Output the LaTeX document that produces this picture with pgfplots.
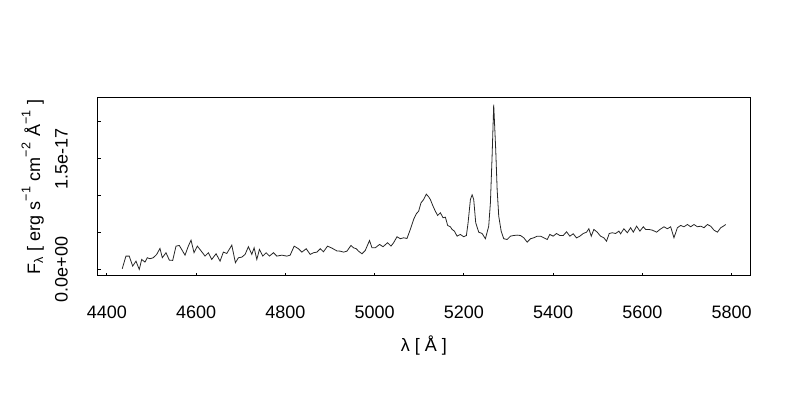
\documentclass[border=0pt]{standalone}
\usepackage{fontspec}
\setmainfont{Liberation Sans}
\usepackage{pgfplots}
\pgfplotsset{compat=1.18}
\begin{document}
\fontsize{13.5}{16}\selectfont
\begin{tikzpicture}
\path[use as bounding box] (0,0) rectangle (600pt,300pt);
\begin{axis}[
  at={(73.5pt,93pt)}, anchor=south west,
  scale only axis, width=489pt, height=133.5pt,
  xmin=4380, xmax=5841, ymin=-0.089, ymax=2.319,
  font=\fontsize{13.5}{16}\selectfont,
  /pgf/number format/assume math mode=true,
  axis line style={line width=0.75pt},
  xtick={4400,4600,...,5800},
  xticklabels={4400,4600,4800,5000,5200,5400,5600,5800},
  ytick={0,0.5,1,1.5,2},
  yticklabels={0.0e+00,,,1.5e-17,},
  tick align=inside, xtick pos=lower, ytick pos=left,
  major tick length=2.5pt,
  tick style={line width=0.75pt,black},
  xticklabel style={yshift=-18pt},
  yticklabel style={xshift=-18pt, rotate=90, anchor=south},
  xlabel={λ [ Å ]},
  xlabel style={at={(axis description cs:0.5,-0.388)}, anchor=center},
  ylabel={F\textsubscript{λ} [ erg s\raisebox{0.3ex}{\textsuperscript{−1}} cm\raisebox{0.3ex}{\textsuperscript{−2}} Å\raisebox{0.3ex}{\textsuperscript{−1}} ]},
  ylabel style={at={(axis description cs:-0.1,0.5)}, anchor=center, rotate=0},
]
\addplot[black!85, line width=0.6pt, mark=none] coordinates {
(4434.3,0.009) (4442.6,0.180) (4450.0,0.180) (4457.7,0.045) (4465.1,0.112)
(4472.5,0.000) (4477.9,0.135) (4485.3,0.099) (4490.4,0.158) (4496.5,0.145)
(4503.9,0.158) (4511.5,0.203) (4518.9,0.284) (4524.1,0.158) (4532.4,0.226)
(4539.8,0.126) (4547.4,0.122) (4554.8,0.315) (4562.2,0.324) (4575.0,0.193)
(4582.4,0.315) (4588.5,0.396) (4595.2,0.226) (4602.6,0.315) (4610.2,0.257)
(4619.9,0.180) (4627.3,0.226) (4634.9,0.135) (4644.6,0.212) (4653.5,0.112)
(4660.9,0.234) (4668.6,0.216) (4679.8,0.328) (4687.9,0.091) (4694.6,0.158)
(4702.2,0.166) (4709.6,0.203) (4717.0,0.307) (4724.7,0.203) (4729.8,0.293)
(4735.9,0.135) (4741.7,0.270) (4749.3,0.180) (4756.7,0.226) (4764.2,0.180)
(4773.1,0.226) (4780.8,0.180) (4792.0,0.193) (4803.2,0.180) (4810.6,0.193)
(4819.6,0.315) (4829.2,0.280) (4836.8,0.234) (4846.5,0.280) (4855.5,0.203)
(4862.9,0.226) (4870.5,0.234) (4877.9,0.280) (4885.3,0.239) (4894.3,0.315)
(4904.2,0.288) (4915.4,0.250) (4922.8,0.247) (4930.2,0.234) (4937.8,0.247)
(4946.8,0.324) (4952.6,0.293) (4958.7,0.280) (4963.8,0.247) (4971.5,0.212)
(4978.9,0.257) (4988.5,0.392) (4993.9,0.293) (5001.3,0.293) (5011.0,0.338)
(5018.6,0.307) (5028.9,0.361) (5036.5,0.315) (5042.4,0.361) (5050.0,0.442)
(5057.4,0.415) (5064.8,0.428) (5072.4,0.419) (5079.8,0.541) (5087.2,0.676)
(5093.3,0.753) (5098.5,0.788) (5103.8,0.901) (5109.7,0.946) (5115.7,1.018)
(5120.9,0.982) (5124.7,0.946) (5130.8,0.855) (5135.9,0.788) (5141.1,0.730)
(5147.2,0.766) (5153.2,0.699) (5158.4,0.707) (5163.5,0.595) (5169.6,0.577)
(5173.4,0.541) (5178.6,0.518) (5184.6,0.450) (5192.0,0.473) (5199.4,0.442)
(5205.5,0.459) (5209.3,0.631) (5214.5,0.946) (5218.3,1.009) (5221.9,0.946)
(5226.4,0.631) (5233.1,0.504) (5240.7,0.486) (5248.1,0.415) (5255.5,0.585)
(5259.3,0.901) (5263.1,1.531) (5266.7,2.230) (5271.2,1.622) (5274.4,1.081)
(5278.0,0.720) (5283.4,0.518) (5289.2,0.415) (5296.8,0.405) (5304.2,0.450)
(5311.6,0.459) (5319.2,0.464) (5326.6,0.459) (5334.1,0.428) (5341.7,0.369)
(5349.1,0.415) (5356.5,0.428) (5364.1,0.450) (5371.5,0.450) (5378.9,0.428)
(5386.6,0.405) (5392.4,0.473) (5400.0,0.450) (5407.4,0.486) (5414.8,0.459)
(5422.5,0.459) (5429.9,0.509) (5437.3,0.450) (5444.9,0.482) (5452.3,0.426)
(5459.7,0.450) (5467.3,0.486) (5474.7,0.504) (5479.9,0.550) (5485.3,0.450)
(5491.1,0.541) (5498.7,0.504) (5506.1,0.450) (5513.5,0.428) (5519.5,0.382)
(5525.6,0.486) (5532.4,0.496) (5539.8,0.486) (5547.2,0.518) (5551.0,0.482)
(5558.4,0.550) (5566.1,0.496) (5573.5,0.564) (5579.5,0.504) (5586.9,0.585)
(5594.3,0.518) (5601.9,0.577) (5607.1,0.541) (5614.5,0.541) (5622.2,0.531)
(5631.8,0.504) (5639.2,0.541) (5648.2,0.577) (5655.8,0.550) (5663.2,0.577)
(5670.6,0.428) (5678.3,0.564) (5685.6,0.595) (5693.0,0.577) (5700.7,0.608)
(5708.1,0.577) (5715.5,0.608) (5723.1,0.577) (5730.5,0.585) (5737.9,0.564)
(5745.5,0.608) (5752.9,0.585) (5760.3,0.531) (5768.0,0.504) (5775.4,0.564)
(5781.4,0.585) (5786.6,0.608)
};
\end{axis}
\end{tikzpicture}
\end{document}
